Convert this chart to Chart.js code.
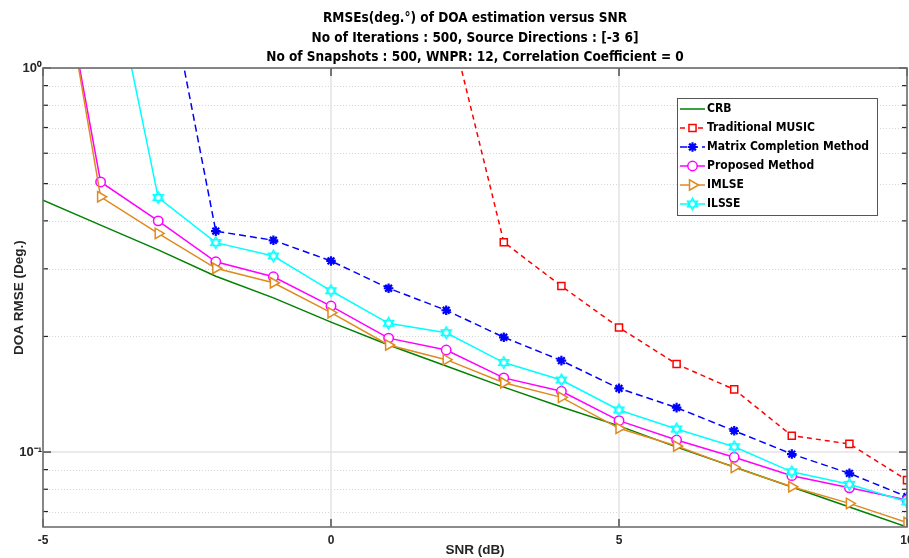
<!DOCTYPE html>
<html><head><meta charset="utf-8">
<script src="https://cdn.jsdelivr.net/npm/chart.js@4.4.0/dist/chart.umd.min.js"></script>
<style>html,body{margin:0;padding:0;background:#fff}#wrap{width:909px;height:558px}</style>
</head><body><div id="wrap"><canvas id="c" width="909" height="558"></canvas></div>
<script>
// ---- data ----
const snr = [-5,-4,-3,-2,-1,0,1,2,3,4,5,6,7,8,9,10];
const crb = [0.453,0.390,0.336,0.287,0.252,0.218,0.190,0.1675,0.1476,0.131,0.117,0.103,0.0914,0.0811,0.0719,0.0638];
const traditionalMusic = [8.5,6.8,5.2,3.9,2.9,2.2,1.75,1.44,0.352,0.2705,0.211,0.1695,0.1456,0.1103,0.105,0.0845];
const matrixCompletion = [6.5,4.2,2.22,0.376,0.356,0.3145,0.267,0.234,0.199,0.173,0.1465,0.1305,0.1136,0.0988,0.0880,0.0765];
const proposedMethod = [3.3,0.505,0.400,0.313,0.286,0.240,0.198,0.1844,0.156,0.144,0.1207,0.1075,0.0969,0.0868,0.0807,0.075];
const imlse = [3.5,0.462,0.371,0.301,0.276,0.2306,0.190,0.174,0.1515,0.1388,0.1153,0.1037,0.0912,0.0812,0.0735,0.0655];
const ilsse = [4.5,2.47,0.460,0.351,0.324,0.263,0.2164,0.2045,0.171,0.154,0.1287,0.1148,0.1032,0.0888,0.0824,0.0742];
const seriesNames = ['CRB','Traditional MUSIC','Matrix Completion Method','Proposed Method','IMLSE','ILSSE'];
const xTickValues = [-5,0,5,10];
const xTickLabels = ['-5','0','5','10'];
const yMajorTicks = [0.1,1];
const yMinorTicks = [0.07,0.08,0.09,0.2,0.3,0.4,0.5,0.6,0.7,0.8,0.9];
const yTickLabels = {'0.1':'10\u207B\u00B9','1':'10\u2070'};
const titleLines = ['RMSEs(deg.\u00B0) of DOA estimation versus SNR','No of Iterations : 500, Source Directions : [-3 6]','No of Snapshots : 500, WNPR: 12, Correlation Coefficient = 0'];
const xTitle = 'SNR (dB)';
const yTitle = 'DOA RMSE (Deg.)';
const yMin = 0.0638, yMax = 1;

function makeHexagram(color, R, lw){
  const s = Math.ceil(2*R + lw*2 + 2);
  const c = document.createElement('canvas'); c.width = s; c.height = s;
  const g = c.getContext('2d'); const cx = s/2, cy = s/2;
  const tri = (start) => { g.beginPath(); for (let k=0;k<3;k++){ const a=(start+120*k)*Math.PI/180; const px=cx+R*Math.cos(a), py=cy+R*Math.sin(a); if(k) g.lineTo(px,py); else g.moveTo(px,py);} g.closePath(); };
  g.fillStyle='#fff'; tri(-90); g.fill(); tri(90); g.fill();
  g.strokeStyle=color; g.lineWidth=lw; tri(-90); g.stroke(); tri(90); g.stroke();
  return c;
}
const hexCanvas = makeHexagram('#00ffff', 5.8, 1.4);

const pts = arr => snr.map((x,i)=>({x, y:arr[i]}));
const datasets = [
  {label:seriesNames[0], data:pts(crb), borderColor:'#008000', borderWidth:1.5, pointRadius:0, pointStyle:false},
  {label:seriesNames[1], data:pts(traditionalMusic), borderColor:'#ff0000', borderWidth:1.5, borderDash:[5,4], pointStyle:'rect', pointRadius:5, pointBorderWidth:1.5, pointBackgroundColor:'#fff', pointBorderColor:'#ff0000'},
  {label:seriesNames[2], data:pts(matrixCompletion), borderColor:'#0000ff', borderWidth:1.5, borderDash:[7,4], pointStyle:'star', pointRadius:4.8, pointBorderWidth:2.2, pointBackgroundColor:'#0000ff', pointBorderColor:'#0000ff'},
  {label:seriesNames[3], data:pts(proposedMethod), borderColor:'#ff00ff', borderWidth:1.5, pointStyle:'circle', pointRadius:4.7, pointBorderWidth:1.5, pointBackgroundColor:'#fff', pointBorderColor:'#ff00ff'},
  {label:seriesNames[4], data:pts(imlse), borderColor:'#e08a1e', borderWidth:1.5, pointStyle:'triangle', pointRotation:90, pointRadius:6, pointBorderWidth:1.5, pointBackgroundColor:'#fff', pointBorderColor:'#e08a1e'},
  {label:seriesNames[5], data:pts(ilsse), borderColor:'#00ffff', borderWidth:1.5, pointStyle:hexCanvas, pointRadius:5.8, pointBorderWidth:1.4, pointBackgroundColor:'#fff', pointBorderColor:'#00ffff'}
];
datasets.forEach((d,i)=>{ d.order = datasets.length-1-i; d.tension = 0; d.fill = false; d.pointHoverRadius = d.pointRadius; });

const framePlugin = {
  id:'frame',
  beforeDatasetsDraw(chart){
    const {ctx, chartArea:a, scales:{x,y}} = chart;
    ctx.save();
    ctx.strokeStyle='#d6d6d6'; ctx.lineWidth=1; ctx.setLineDash([1,2]);
    yMinorTicks.forEach(v=>{ const py=Math.round(y.getPixelForValue(v))+0.5; ctx.beginPath(); ctx.moveTo(a.left,py); ctx.lineTo(a.right,py); ctx.stroke(); });
    ctx.setLineDash([]); ctx.strokeStyle='#e3e3e3'; ctx.lineWidth=1.5;
    yMajorTicks.forEach(v=>{ const py=y.getPixelForValue(v); ctx.beginPath(); ctx.moveTo(a.left,py); ctx.lineTo(a.right,py); ctx.stroke(); });
    xTickValues.forEach(v=>{ const px=x.getPixelForValue(v); ctx.beginPath(); ctx.moveTo(px,a.top); ctx.lineTo(px,a.bottom); ctx.stroke(); });
    ctx.restore();
  },
  afterDatasetsDraw(chart){
    const {ctx, chartArea:a, scales:{x,y}} = chart;
    ctx.save();
    ctx.strokeStyle='#262626'; ctx.lineWidth=1.2;
    const tick=(x1,y1,x2,y2)=>{ctx.beginPath();ctx.moveTo(x1,y1);ctx.lineTo(x2,y2);ctx.stroke();};
    yMajorTicks.forEach(v=>{ const py=y.getPixelForValue(v); tick(a.left,py,a.left+8,py); tick(a.right,py,a.right-8,py); });
    yMinorTicks.forEach(v=>{ const py=y.getPixelForValue(v); tick(a.left,py,a.left+5,py); tick(a.right,py,a.right-5,py); });
    xTickValues.forEach(v=>{ const px=x.getPixelForValue(v); tick(px,a.bottom,px,a.bottom-8); tick(px,a.top,px,a.top+8); });
    ctx.strokeStyle='#6e6e6e'; ctx.lineWidth=1.6;
    ctx.strokeRect(a.left,a.top,a.right-a.left,a.bottom-a.top);
    // x tick labels
    ctx.fillStyle='#262626'; ctx.font='bold 12px "Liberation Sans"'; ctx.textAlign='center'; ctx.textBaseline='middle';
    xTickValues.forEach((v,i)=>{ ctx.fillText(xTickLabels[i], x.getPixelForValue(v), a.bottom+14); });
    ctx.restore();
  }
};

const legendPlugin = {
  id:'boxLegend',
  afterDraw(chart){
    const ctx = chart.ctx; ctx.save();
    const bx=677.5, by=98.5, bw=200, bh=117;
    ctx.fillStyle='#fff'; ctx.fillRect(bx,by,bw,bh);
    ctx.strokeStyle='#555'; ctx.lineWidth=1; ctx.strokeRect(bx,by,bw,bh);
    chart.data.datasets.forEach((ds,i)=>{
      const yy = 109 + 19*i;
      ctx.strokeStyle=ds.borderColor; ctx.lineWidth=ds.borderWidth; ctx.setLineDash(ds.borderDash||[]);
      ctx.beginPath(); ctx.moveTo(680,yy); ctx.lineTo(705,yy); ctx.stroke(); ctx.setLineDash([]);
      if (ds.pointStyle) {
        ctx.fillStyle = ds.pointBackgroundColor; ctx.strokeStyle = ds.pointBorderColor; ctx.lineWidth = ds.pointBorderWidth;
        Chart.helpers.drawPoint(ctx, {pointStyle:ds.pointStyle, radius:ds.pointRadius, rotation:ds.pointRotation||0, borderWidth:ds.pointBorderWidth}, 692.5, yy);
      }
      ctx.fillStyle='#000'; ctx.font='bold 12px "DejaVu Sans Condensed", "DejaVu Sans"'; ctx.textBaseline='middle'; ctx.textAlign='left';
      ctx.fillText(ds.label, 707, yy);
    });
    ctx.restore();
  }
};

new Chart(document.getElementById('c'), {
  type:'line',
  data:{datasets},
  options:{
    responsive:false, animation:false, devicePixelRatio:1,
    layout:{autoPadding:false, padding:{left:0,right:2,top:0,bottom:0}},
    plugins:{
      legend:{display:false}, tooltip:{enabled:false},
      title:{display:true, fullSize:false, text:titleLines, color:'#000', font:{family:'"DejaVu Sans Condensed", "DejaVu Sans"', size:13.5, weight:'bold', lineHeight:1.45}, padding:{top:9, bottom:0.3}}
    },
    scales:{
      x:{type:'linear', min:-5, max:10,
        grid:{display:false, drawTicks:false}, border:{display:false},
        afterBuildTicks:s=>{ s.ticks = xTickValues.map(v=>({value:v})); },
        afterFit:s=>{ s.height=31; s.paddingLeft=0; s.paddingRight=0; },
        ticks:{display:false},
        title:{display:true, text:xTitle, color:'#262626', font:{family:'"Liberation Sans"', size:13.5, weight:'bold'}, padding:{top:0,bottom:0}}
      },
      y:{type:'logarithmic', min:yMin, max:yMax,
        grid:{display:false, drawTicks:false}, border:{display:false},
        afterBuildTicks:s=>{ s.ticks = yMinorTicks.concat(yMajorTicks).sort((a,b)=>a-b).map(v=>({value:v})); },
        afterFit:s=>{ s.width=43; s.paddingTop=0; s.paddingBottom=0; },
        ticks:{color:'#262626', font:{family:'"Liberation Sans"', size:13, weight:'bold'}, padding:1, autoSkip:false, callback:v=>yTickLabels[String(v)]||''},
        title:{display:true, text:yTitle, color:'#262626', font:{family:'"Liberation Sans"', size:13.5, weight:'bold'}, padding:{top:11,bottom:0}}
      }
    }
  },
  plugins:[framePlugin, legendPlugin]
});
</script>
</body></html>
